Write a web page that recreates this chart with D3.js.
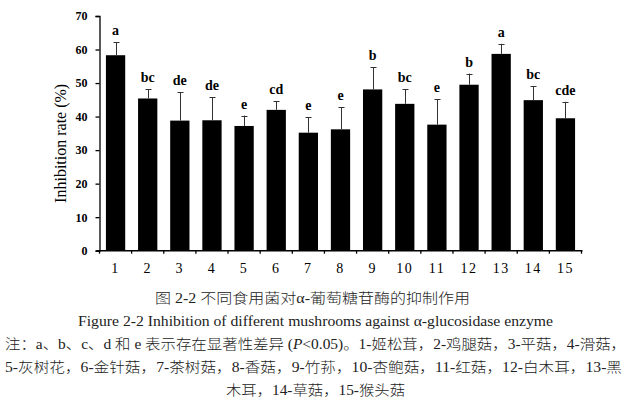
<!DOCTYPE html>
<html><head><meta charset="utf-8">
<script src="https://cdn.jsdelivr.net/npm/d3@7/dist/d3.min.js"></script>
<style>body{margin:0;background:#fff}svg{display:block}</style>
</head><body><svg id="c" width="631" height="405"></svg>
<script>
const categories = ["1","2","3","4","5","6","7","8","9","10","11","12","13","14","15"];
const values = [58.3,45.4,38.8,38.9,37.2,42.0,35.2,36.2,48.1,43.8,37.6,49.5,58.7,44.9,39.5];
const errors = [3.9,2.7,8.5,6.9,3.1,2.6,4.6,6.6,6.6,4.4,7.6,3.3,3.0,4.1,4.9];
const letters = ["a","bc","de","de","e","cd","e","e","b","bc","e","b","a","bc","cde"];
const yTicks = [0,10,20,30,40,50,60,70];
const yTitle = "Inhibition rate (%)";
const captionLines = [
  [["图 2-2 不同食用菌对α-葡萄糖苷酶的抑制作用",false]],
  [["Figure 2-2 Inhibition of different mushrooms against α-glucosidase enzyme",false]],
  [["注：a、b、c、d 和 e 表示存在显著性差异 (",false],["P",true],["<0.05)。1-姬松茸，2-鸡腿菇，3-平菇，4-滑菇，",false]],
  [["5-灰树花，6-金针菇，7-茶树菇，8-香菇，9-竹荪，10-杏鲍菇，11-红菇，12-白木耳，13-黑",false]],
  [["木耳，14-草菇，15-猴头菇",false]]
];

const svg = d3.select("#c");
const serif = "'Liberation Serif','Times New Roman',serif";
const cjk = "'Liberation Serif','Noto Sans CJK SC',serif";
const x0 = 99.5, x1 = 581.5, yTop = 16, yBot = 250.7;
const x = d3.scaleBand().domain(categories).range([x0, x1]).paddingInner(0.4).paddingOuter(0.2);
const y = d3.scaleLinear().domain([0,70]).range([yBot, yTop]);

svg.append("g").selectAll("rect").data(values).join("rect")
  .attr("x",(d,i)=>x(categories[i])).attr("width",x.bandwidth())
  .attr("y",d=>y(d)).attr("height",d=>yBot-y(d)).attr("fill","#000");

const eg = svg.append("g").attr("stroke","#333").attr("stroke-width",1);
values.forEach((v,i)=>{
  const cx = Math.round(x(categories[i])+x.bandwidth()/2)+0.5;
  eg.append("line").attr("x1",cx).attr("x2",cx).attr("y1",y(v)).attr("y2",y(v+errors[i]));
  eg.append("line").attr("x1",cx-3).attr("x2",cx+3).attr("y1",Math.round(y(v+errors[i]))+0.5).attr("y2",Math.round(y(v+errors[i]))+0.5);
});

svg.append("g").selectAll("text").data(letters).join("text")
  .attr("x",(d,i)=>x(categories[i])+x.bandwidth()/2)
  .attr("y",(d,i)=>y(values[i]+errors[i])-7)
  .attr("text-anchor","middle").attr("font-family",serif).attr("font-weight","bold")
  .attr("font-size",14).text(d=>d);

const ya = svg.append("g").attr("transform",`translate(${x0},0)`)
  .call(d3.axisLeft(y).tickValues(yTicks).tickSize(4).tickPadding(8).tickSizeOuter(4));
ya.select(".domain").attr("stroke","#000").attr("stroke-width",1.3);
ya.selectAll(".tick line").attr("stroke","#000").attr("stroke-width",1.3);
ya.selectAll("text").attr("font-family",serif).attr("font-weight","bold").attr("font-size",12).attr("fill","#000");

const xa = svg.append("g").attr("transform",`translate(0,${yBot})`);
xa.append("line").attr("x1",x0-3).attr("x2",x1+1).attr("y1",0).attr("y2",0).attr("stroke","#000").attr("stroke-width",1.5);
const step = x.step();
const bandStart = x(categories[0]) - x.paddingOuter()*step;
d3.range(0,16).forEach(i=>{
  const tx = bandStart + i*step;
  xa.append("line").attr("x1",tx).attr("x2",tx).attr("y1",0).attr("y2",3).attr("stroke","#000").attr("stroke-width",1.3);
});
xa.selectAll("text.xl").data(categories).join("text").attr("class","xl")
  .attr("x",d=>x(d)+x.bandwidth()/2).attr("y",22)
  .attr("text-anchor","middle").attr("font-family",serif).attr("font-size",14).attr("letter-spacing",1.5).text(d=>d);

svg.append("text").attr("transform",`translate(66,${(yTop+yBot)/2+10}) rotate(-90)`)
  .attr("text-anchor","middle").attr("font-family",serif).attr("font-size",16).text(yTitle);

const capSpecs = [
  {y:303, x1:155, x2:470, size:14},
  {y:326, x1:78, x2:553, size:15},
  {y:349, x1:5, x2:626, size:14},
  {y:372, x1:5, x2:622, size:14},
  {y:395, x1:226, x2:405, size:14}
];
captionLines.forEach((parts,i)=>{
  const s = capSpecs[i];
  const t = svg.append("text").attr("x",s.x1).attr("y",s.y).attr("font-family",cjk).attr("font-size",s.size)
    .attr("font-weight",300).attr("textLength",s.x2-s.x1).attr("lengthAdjust","spacingAndGlyphs").attr("fill","#222");
  parts.forEach(([str,it])=>{
    const ts = t.append("tspan").text(str);
    if (it) ts.attr("font-style","italic");
  });
});
</script></body></html>
